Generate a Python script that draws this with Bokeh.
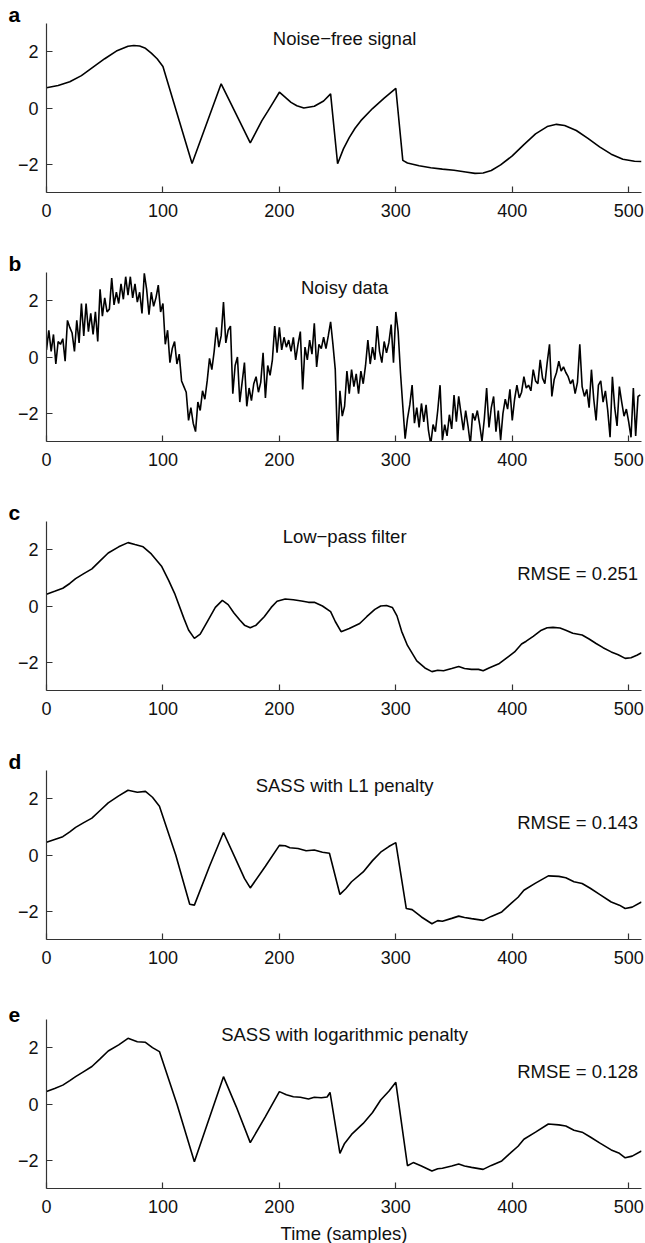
from bokeh.plotting import figure
from bokeh.layouts import column
from bokeh.models import Label, FixedTicker, Range1d
from bokeh.embed import file_html
from bokeh.resources import INLINE

FONT = "Liberation Sans"

# ---------------- data ----------------
clean_x = [0, 10, 20, 30, 40, 50, 60, 70, 75, 80, 85, 90, 95, 100, 125, 150, 162, 175, 185, 190, 195,
           200, 210, 215, 221, 230, 238, 244, 250, 255, 260, 265, 270, 280, 290, 300, 306, 310, 320,
           330, 340, 350, 360, 368, 375, 382, 390, 400, 410, 420, 430, 438, 445, 455, 465, 475, 485,
           495, 505, 511]
clean_y = [0.72, 0.8, 0.93, 1.15, 1.45, 1.75, 2.02, 2.19, 2.22, 2.2, 2.12, 1.95, 1.75, 1.47, -1.97,
           0.86, -0.15, -1.24, -0.45, -0.12, 0.22, 0.56, 0.2, 0.08, 0.0, 0.06, 0.25, 0.5, -1.98,
           -1.45, -1.05, -0.72, -0.45, -0.02, 0.35, 0.7, -1.86, -1.95, -2.05, -2.12, -2.17, -2.21,
           -2.27, -2.32, -2.31, -2.22, -2.02, -1.7, -1.3, -0.92, -0.66, -0.58, -0.62, -0.8, -1.08,
           -1.38, -1.64, -1.82, -1.89, -1.9]

noisy_x = list(range(0, 512, 2))
noisy_y = [
    0.25, 0.95, 0.2, 0.8, -0.25, 0.55, 0.45, 0.65, -0.15, 1.3,
    1.05, 0.85, 0.2, 1.3, 0.5, 1.9, 0.75, 1.9, 0.9, 1.55,
    0.8, 1.6, 0.55, 2.4, 1.45, 2.1, 1.6, 1.7, 2.8, 1.85,
    2.3, 1.9, 2.6, 2.05, 2.85, 2.2, 2.85, 2.1, 2.6, 1.95,
    2.3, 1.55, 2.97, 2.4, 1.5, 2.3, 1.8, 2.1, 2.55, 1.6,
    1.9, 0.45, 0.95, -0.2, 0.3, 0.55, -0.25, 0.1, -0.85, -1.05,
    -1.25, -2.25, -1.8, -2.35, -2.65, -1.6, -1.9, -1.2, -1.5, -0.85,
    -0.05, -0.45, 0.2, 1.05, 0.35, 0.75, 1.95, 0.5, 0.95, 1.1,
    -1.3, -0.3, 0.0, -1.6, -0.9, -0.2, -1.75, -1.1, -1.55, -0.95,
    -0.7, -1.25, -0.9, 0.15, -1.45, -0.3, -0.65, -0.1, 1.1, 0.15,
    1.05, 0.25, 0.7, 0.35, 0.6, 0.2, 0.7, -0.1, 0.45, 0.9,
    -1.15, 0.35, -0.1, 0.6, 0.1, 1.2, -0.35, 0.45, 0.3, 0.7,
    0.3, 0.75, 1.25, 0.45, -0.45, -3.2, -1.2, -2.1, -1.75, -0.5,
    -1.3, -0.45, -1.05, -0.6, -1.3, -0.5, -0.95, -0.3, 0.6, -0.25,
    0.35, -0.1, 1.1, 0.2, -0.2, 0.55, 0.15, 0.5, 1.15, -0.2,
    1.6, 0.9, -0.55, -1.75, -2.9, -2.2, -1.7, -1.0, -2.35, -1.8,
    -2.5, -1.65, -2.3, -1.7, -2.6, -3.1, -2.4, -2.65, -1.9, -1.0,
    -2.95, -2.4, -2.8, -2.05, -2.55, -1.35, -2.3, -1.4, -2.0, -2.6,
    -1.9, -2.45, -3.1, -2.0, -2.25, -1.9, -2.4, -3.0, -2.2, -1.1,
    -2.5, -1.8, -1.4, -2.65, -1.9, -2.95, -2.0, -1.5, -1.85, -1.15,
    -2.25, -1.5, -1.0, -1.45, -1.25, -0.7, -1.1, -1.0, -1.2, -0.45,
    -0.85, -0.95, -0.1, -0.75, -0.95, -0.2, 0.45, -1.4, -0.8, -0.55,
    -0.15, -0.5, -0.35, -0.55, -0.7, -0.95, -0.8, -1.3, -0.9, 0.45,
    -1.05, -1.4, -1.15, -1.8, -0.45, -1.5, -2.25, -1.0, -0.85, -1.6,
    -1.2, -1.9, -2.85, -0.7, -1.8, -2.45, -1.05, -1.6, -2.1, -1.85,
    -2.3, -2.85, -1.1, -2.8, -1.4, -1.35]

lp_x = [0, 7, 14, 20, 25, 32, 39, 46, 53, 62, 70, 76, 83, 90, 99, 105, 110, 118, 122, 127, 132, 138,
        145, 151, 156, 161, 166, 170, 175, 180, 187, 193, 198, 205, 212, 219, 225, 230, 237, 244, 248,
        253, 260, 269, 275, 282, 287, 292, 297, 301, 305, 310, 318, 325, 331, 336, 341, 348, 354, 359,
        365, 371, 375, 380, 389, 395, 402, 408, 412, 418, 425, 430, 435, 441, 446, 452, 460, 466, 472,
        478, 485, 491, 497, 502, 507, 511]
lp_y = [0.42, 0.52, 0.63, 0.8, 0.97, 1.15, 1.32, 1.6, 1.88, 2.1, 2.25, 2.18, 2.1, 1.85, 1.4, 0.9, 0.45,
        -0.44, -0.85, -1.15, -1.0, -0.56, -0.05, 0.2, 0.05, -0.25, -0.5, -0.68, -0.77, -0.68, -0.38,
        -0.05, 0.17, 0.25, 0.22, 0.18, 0.13, 0.13, 0.0, -0.2, -0.55, -0.91, -0.8, -0.62, -0.38, -0.12,
        0.0, 0.02, -0.05, -0.35, -0.9, -1.4, -1.95, -2.2, -2.33, -2.28, -2.3, -2.22, -2.15, -2.22,
        -2.25, -2.25, -2.3, -2.2, -2.04, -1.85, -1.63, -1.35, -1.25, -1.08, -0.86, -0.77, -0.76, -0.78,
        -0.86, -0.97, -1.03, -1.17, -1.33, -1.48, -1.63, -1.73, -1.86, -1.84, -1.75, -1.66]

l1_x = [0, 7, 14, 20, 25, 32, 39, 46, 53, 62, 70, 78, 85, 91, 97, 111, 123, 127, 140, 152, 162, 170,
        175, 188, 200, 205, 209, 216, 223, 230, 237, 243, 252, 257, 262, 272, 280, 287, 294, 300, 309,
        314, 322, 331, 336, 340, 348, 354, 359, 365, 375, 382, 391, 399, 405, 410, 420, 431, 440, 446,
        453, 460, 467, 475, 485, 492, 497, 503, 511]
l1_y = [0.45, 0.55, 0.65, 0.82, 0.98, 1.15, 1.31, 1.58, 1.85, 2.1, 2.3, 2.23, 2.26, 2.05, 1.73, 0.0,
        -1.75, -1.78, -0.4, 0.8, -0.1, -0.83, -1.17, -0.4, 0.34, 0.33, 0.26, 0.23, 0.15, 0.18, 0.1,
        0.06, -1.4, -1.2, -0.95, -0.6, -0.2, 0.1, 0.3, 0.44, -1.9, -1.94, -2.2, -2.44, -2.33, -2.35,
        -2.25, -2.17, -2.22, -2.26, -2.32, -2.18, -2.02, -1.72, -1.5, -1.25, -1.0, -0.74, -0.76,
        -0.81, -0.95, -1.01, -1.18, -1.4, -1.67, -1.78, -1.9, -1.85, -1.67]

log_x = [0, 7, 14, 20, 25, 32, 39, 46, 53, 62, 70, 78, 85, 91, 97, 112, 127, 152, 163, 175, 188, 200,
         206, 212, 218, 225, 230, 236, 241, 243.5, 252, 256, 262, 272, 280, 287, 294, 300, 310, 315,
         322, 331, 336, 340, 348, 354, 359, 365, 375, 382, 391, 399, 405, 410, 420, 431, 440, 446,
         453, 460, 467, 475, 485, 492, 497, 503, 511]
log_y = [0.44, 0.55, 0.67, 0.83, 0.97, 1.15, 1.33, 1.6, 1.88, 2.1, 2.33, 2.21, 2.19, 2.0, 1.86, 0.0,
         -2.05, 0.97, -0.1, -1.37, -0.45, 0.44, 0.33, 0.26, 0.24, 0.18, 0.24, 0.22, 0.25, 0.41,
         -1.75, -1.4, -1.08, -0.69, -0.3, 0.14, 0.45, 0.77, -2.19, -2.08, -2.2, -2.38, -2.3, -2.28,
         -2.2, -2.13, -2.2, -2.25, -2.32, -2.18, -2.02, -1.72, -1.5, -1.25, -1.0, -0.71, -0.74,
         -0.78, -0.93, -1.0, -1.17, -1.38, -1.63, -1.75, -1.91, -1.85, -1.67]

letters = ["a", "b", "c", "d", "e"]
titles = ["Noise\u2212free signal", "Noisy data", "Low\u2212pass filter",
          "SASS with L1 penalty", "SASS with logarithmic penalty"]
rmse_texts = [None, None, "RMSE = 0.251", "RMSE = 0.143", "RMSE = 0.128"]
x_ticks = [0, 100, 200, 300, 400, 500]
y_ticks = [-2, 0, 2]
y_tick_labels = {-2: "\u22122", 0: "0", 2: "2"}
x_label = "Time (samples)"

series = [(clean_x, clean_y), (noisy_x, noisy_y), (lp_x, lp_y), (l1_x, l1_y), (log_x, log_y)]

AX = "#333333"
TXT = "#111111"


def panel(i):
    last = i == 4
    xs, ys = series[i]
    p = figure(frame_width=595, frame_height=169,
               x_range=Range1d(0, 511), y_range=Range1d(-3, 3),
               output_backend="svg", toolbar_location=None,
               min_border_left=46, min_border_right=4, min_border_top=23,
               min_border_bottom=(55 if last else 57))
    p.line(xs, ys, line_color="black", line_width=1.6)
    p.grid.visible = False
    p.outline_line_color = None
    p.background_fill_color = "white"
    p.border_fill_color = "white"

    # panel letter as the figure title (outside the frame, top-left)
    p.title.text = letters[i]
    p.title.align = "left"
    p.title.offset = -38
    p.title.standoff = -5
    p.title.text_font = FONT
    p.title.text_font_size = "21px"
    p.title.text_font_style = "bold"
    p.title.text_color = "black"

    for ax in (p.xaxis[0], p.yaxis[0]):
        ax.axis_line_color = AX
        ax.axis_line_width = 1.2
        ax.major_tick_line_color = AX
        ax.major_tick_line_width = 1.2
        ax.major_tick_in = 6
        ax.major_tick_out = 0
        ax.minor_tick_line_color = None
        ax.major_label_text_font = FONT
        ax.major_label_text_font_size = "18px"
        ax.major_label_text_color = TXT
    p.xaxis.ticker = FixedTicker(ticks=x_ticks)
    p.yaxis.ticker = FixedTicker(ticks=y_ticks)
    p.yaxis.major_label_overrides = y_tick_labels
    p.xaxis.major_label_standoff = 11
    p.yaxis.major_label_standoff = 8

    if last:
        p.xaxis.axis_label = x_label
        p.xaxis.axis_label_text_font = FONT
        p.xaxis.axis_label_text_font_size = "18.5px"
        p.xaxis.axis_label_text_font_style = "normal"
        p.xaxis.axis_label_text_color = TXT
        p.xaxis.axis_label_standoff = 7

    p.add_layout(Label(x=256, y=2.45, text=titles[i], text_font=FONT, text_font_size="18.5px",
                       text_align="center", text_baseline="middle", text_color=TXT))
    if rmse_texts[i]:
        p.add_layout(Label(x=508, y=1.15, text=rmse_texts[i], text_font=FONT,
                           text_font_size="18.5px", text_align="right", text_baseline="middle",
                           text_color=TXT))
    return p


layout = column(*[panel(i) for i in range(5)], spacing=0)
open("out.html", "w").write(file_html(layout, INLINE))
